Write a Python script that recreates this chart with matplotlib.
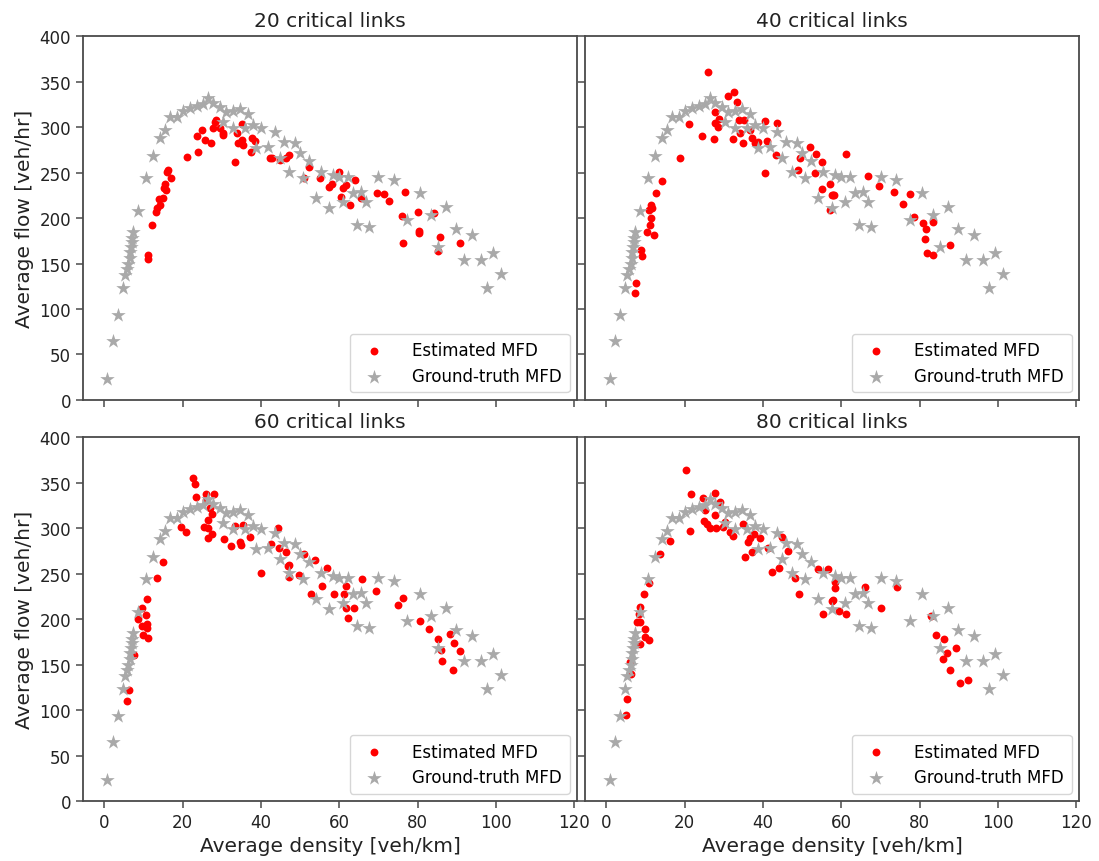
import matplotlib
matplotlib.use("Agg")
import matplotlib.pyplot as plt

plt.rcParams['font.family'] = ['DejaVu Sans']

# Ground-truth MFD (same in all panels)
gt_x = [0.85, 2.2, 3.6, 4.7, 5.3, 5.8, 6.2, 6.6, 7.0, 7.3, 6.9, 7.2, 6.5, 8.7, 10.7, 12.4, 14.2,
        15.5, 16.8, 18.5, 20.2, 21.9, 23.6, 25.3, 26.5, 27.8, 29.5, 31.2, 32.9, 34.6, 36.7,
        30.4, 32.9, 35.9, 38.0, 40.1, 43.5, 38.8, 41.8, 44.8, 46.0, 48.6, 49.9, 52.2, 47.3,
        50.7, 54.1, 55.4, 57.5, 58.3, 60.0, 62.2, 60.9, 63.4, 65.6, 66.7, 64.5, 67.5, 70.0,
        74.0, 77.4, 80.7, 83.4, 87.2, 85.3, 89.7, 93.8, 91.9, 96.1, 99.3, 101.2, 97.6]
gt_y = [23, 64.6, 93.7, 123, 137, 144, 150, 163, 174, 185, 168, 178, 156, 208, 243.5, 268, 287.6,
        296.8, 311.5, 311.5, 318, 320.6, 323.6, 325, 331.7, 326, 322.5, 317, 318, 320, 314,
        306, 298.6, 298.6, 302, 299, 295, 276.6, 278.4, 266, 284, 282, 271, 262.6, 251,
        243.5, 221.5, 251, 210.5, 247, 245, 245, 217.7, 227, 228.8, 217.7, 192, 190, 245,
        241.6, 197.6, 227, 203, 212, 168, 188.4, 181.8, 153.5, 153.5, 161.6, 138, 123.4]

# Estimated MFD, 20 critical links
e20_x = [11.1, 11.1, 12.1, 13.2, 13.6, 14.2, 14.1, 14.9, 15.3, 15.8, 15.5, 16.1, 16.3, 17.0,
         21.2, 24.0, 23.6, 24.9, 25.7, 27.2, 27.7, 28.2, 28.6, 29.5, 30.4, 30.4, 33.3, 33.8,
         34.2, 35.3, 35.4, 35.2, 37.4, 37.8, 38.6, 42.4, 42.8, 44.8, 46.5, 47.3, 52.2, 51.1,
         55.0, 57.5, 58.2, 60.0, 60.9, 61.8, 60.5, 62.8, 64.1, 65.6, 69.6, 71.3, 72.6, 76.8,
         75.9, 76.3, 80.0, 80.4, 80.4, 84.2, 85.8, 85.3, 90.8]
e20_y = [159, 155, 192.8, 206.8, 210.5, 214, 220.7, 222, 232.5, 230.6, 237, 251, 253, 244,
         266.7, 273, 290, 296.8, 285.7, 283, 299, 306, 308, 298.6, 293, 291, 262, 293,
         282, 285.7, 280, 303, 273, 288, 284.6, 265.6, 266, 263.7, 265.6, 269, 256, 243.5,
         243.5, 234, 237, 251, 232.5, 236, 223, 214, 241.6, 221.5, 227, 226, 218.5, 228.8,
         202, 173, 206.7, 185.4, 184, 206, 179, 164, 173]

# Estimated MFD, 40 critical links
e40_x = [26.0, 31.2, 32.7, 33.5, 21.0, 24.4, 27.4, 27.8, 28.5, 27.8, 28.8, 32.3, 34.9, 34.2,
         33.8, 35.1, 36.7, 37.3, 38.0, 38.7, 40.5, 41.0, 43.5, 43.3, 40.4, 18.9, 14.3, 12.8,
         11.5, 11.7, 10.9, 11.5, 11.3, 10.4, 12.1, 8.9, 9.2, 7.7, 7.3, 49.4, 49.0, 52.0,
         53.5, 55.0, 53.3, 57.1, 55.0, 57.9, 57.1, 61.1, 57.5, 58.0, 66.8, 69.6, 73.4, 77.4,
         75.8, 78.5, 80.8, 81.5, 83.5, 81.3, 87.6, 81.9, 83.4]
e40_y = [360, 334.6, 339, 328, 303, 290, 286.5, 304, 300.5, 316, 309, 286.5, 282, 293,
         307.8, 307.8, 296.8, 287.6, 282, 283.5, 306.7, 284.6, 304, 269, 249.8, 265.6, 241, 227,
         214, 211, 208.6, 200, 192.8, 184.8, 181, 164.5, 158.3, 128.6, 117.6, 265.6, 252.7, 278.5,
         270, 262, 249, 237, 231.7, 225, 208.6, 270, 225, 225, 246, 235.5, 228.8, 226,
         215, 201, 194, 188.4, 195.8, 177.4, 170, 161.6, 159.8]

# Estimated MFD, 60 critical links
e60_x = [22.7, 23.2, 23.4, 26.0, 28.0, 26.1, 27.0, 27.4, 26.5, 25.5, 26.5, 27.4, 26.5, 19.5,
         20.9, 30.7, 32.3, 33.5, 35.5, 34.6, 34.9, 37.2, 40.1, 44.4, 42.7, 44.6, 46.5, 46.9,
         47.1, 47.3, 49.7, 51.1, 53.7, 52.8, 55.5, 56.9, 14.9, 13.6, 11.0, 10.7, 9.6, 8.7,
         9.6, 10.9, 10.9, 9.8, 11.3, 6.4, 5.9, 7.5, 58.6, 61.1, 61.6, 61.8, 63.7, 62.2,
         65.8, 69.4, 76.2, 75.1, 80.7, 82.8, 85.1, 85.9, 86.2, 88.3, 89.4, 90.8, 89.1]
e60_y = [354.8, 348, 334.6, 338, 338, 331, 321.7, 315, 309, 300.8, 300, 293, 288.7, 300.8,
         295.3, 287.6, 280.6, 302, 303.4, 285, 281, 289.8, 251, 299.7, 283, 278.4, 274, 258.6,
         259, 245.7, 248, 272, 264.8, 228, 236, 256.4, 263, 244.6, 221.8, 205, 211.6, 200.5,
         192.5, 195, 190.5, 182, 179.6, 122.3, 109.4, 160, 227, 227.3, 236.6, 211.6, 212.3, 201.6,
         243.5, 231, 223.3, 215, 198, 188.8, 178.5, 165.6, 153.5, 184, 173.8, 164.5, 144.4]

# Estimated MFD, 80 critical links
e80_x = [20.3, 21.7, 24.7, 27.7, 25.3, 29.1, 27.8, 21.3, 24.9, 25.7, 26.5, 27.9, 29.8, 30.4,
         31.6, 32.3, 34.9, 36.3, 36.7, 37.6, 39.3, 35.4, 37.3, 41.4, 42.4, 44.2, 44.8, 46.5,
         48.3, 49.2, 54.1, 56.7, 58.4, 57.9, 55.4, 16.4, 13.8, 10.9, 9.6, 8.7, 8.3, 7.9,
         8.7, 10.0, 10.0, 10.9, 8.6, 6.0, 6.4, 5.3, 5.1, 58.5, 57.5, 59.5, 61.1, 66.0,
         70.2, 74.3, 83.0, 84.2, 86.1, 89.3, 86.9, 85.9, 87.6, 90.2, 92.4]
e80_y = [364, 337, 333.5, 339, 320, 329, 314, 296.8, 307.8, 304, 300.5, 300.5, 301.5, 307,
         296, 291.6, 305, 285, 288.7, 293, 289.5, 268.5, 273.3, 278.4, 252, 256.4, 290.6, 274.7,
         244.6, 228, 254.9, 254.5, 241, 220.7, 206, 286, 272, 240, 227.3, 213.4, 206, 197,
         197, 189.5, 180.4, 176.6, 173, 152.8, 140, 112.4, 94, 233.6, 219.6, 209, 206, 235.5,
         212.3, 235.5, 203.5, 183, 178.5, 168.2, 163, 155.7, 143.6, 130, 132.6]

titles = ["20 critical links", "40 critical links", "60 critical links", "80 critical links"]
estimates = [(e20_x, e20_y), (e40_x, e40_y), (e60_x, e60_y), (e80_x, e80_y)]
x_ticks = [0, 20, 40, 60, 80, 100, 120]
y_ticks = [0, 50, 100, 150, 200, 250, 300, 350, 400]

fig, axes = plt.subplots(2, 2, figsize=(10.99, 8.62), dpi=100, sharex=True, sharey=True)
fig.subplots_adjust(left=0.0755, right=0.982, top=0.957, bottom=0.0696, wspace=0.016, hspace=0.102)

spine_col = '#4a4a4a'
text_col = '#222222'
for ax, title, (ex, ey) in zip(axes.flat, titles, estimates):
    ax.scatter(ex, ey, s=32, color='red', marker='o', linewidths=0, label='Estimated MFD', zorder=2)
    ax.scatter(gt_x, gt_y, s=120, color='darkgray', marker='*', linewidths=0, label='Ground-truth MFD', zorder=3)
    ax.set_title(title, fontsize=14.5, color=text_col, pad=7)
    ax.set_xlim(-5.4, 120.7)
    ax.set_ylim(0, 400)
    ax.set_xticks(x_ticks)
    ax.set_yticks(y_ticks)
    ax.tick_params(direction='out', length=5, width=1.1, color=spine_col, labelsize=12, labelcolor=text_col)
    for sp in ax.spines.values():
        sp.set_color(spine_col)
        sp.set_linewidth(1.3)
    leg = ax.legend(loc='lower right', fontsize=12, frameon=True, borderpad=0.45, handletextpad=1.3,
                    labelspacing=0.45, scatterpoints=1, borderaxespad=0.45)
    leg.get_frame().set_edgecolor('#cccccc')
    leg.get_frame().set_linewidth(1.0)

for ax in axes[:, 0]:
    ax.set_ylabel('Average flow [veh/hr]', fontsize=14.5, color=text_col)
for ax in axes[1, :]:
    ax.set_xlabel('Average density [veh/km]', fontsize=14.5, color=text_col)

fig.savefig('out.png', dpi=100)
